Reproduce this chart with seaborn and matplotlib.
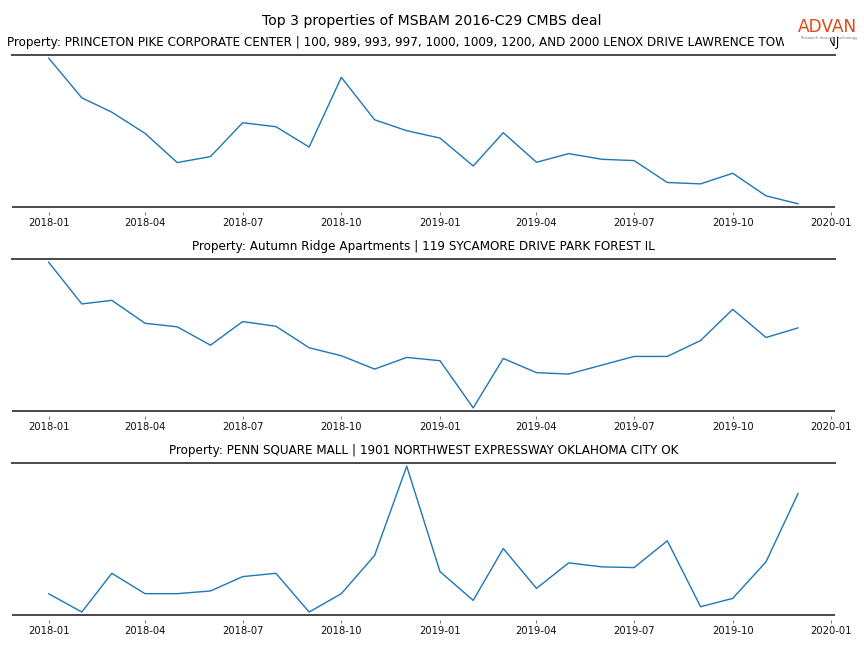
import numpy as np
import pandas as pd
import matplotlib
matplotlib.use("Agg")
import matplotlib.pyplot as plt
import matplotlib.dates as mdates
from matplotlib.patches import Rectangle
import seaborn as sns

months = pd.date_range("2018-01-01", "2019-12-01", freq="MS")

titles = [
    "Property: PRINCETON PIKE CORPORATE CENTER | 100, 989, 993, 997, 1000, 1009, 1200, AND 2000 LENOX DRIVE LAWRENCE TOWNSHIP NJ",
    "Property: Autumn Ridge Apartments | 119 SYCAMORE DRIVE PARK FOREST IL",
    "Property: PENN SQUARE MALL | 1901 NORTHWEST EXPRESSWAY OKLAHOMA CITY OK",
]

princeton = [151.7, 111.7, 97.3, 76.0, 46.7, 52.7, 86.7, 82.7, 62.3, 132.3, 89.7, 78.7,
             71.3, 43.3, 76.7, 47.0, 55.7, 50.0, 48.7, 26.7, 25.3, 36.0, 13.3, 5.3]
autumn = [152.7, 110.7, 114.3, 91.3, 87.7, 69.3, 93.0, 88.3, 66.7, 58.7, 45.3, 57.0,
          53.7, 6.3, 56.0, 41.7, 40.3, 49.3, 58.0, 58.0, 74.0, 105.3, 77.0, 86.7]
penn = [26.0, 7.7, 46.3, 26.0, 26.0, 28.7, 43.0, 46.3, 7.7, 26.0, 64.0, 153.0,
        48.0, 19.3, 71.0, 31.3, 56.7, 52.7, 52.0, 78.7, 13.0, 21.3, 57.7, 126.0]

series = [princeton, autumn, penn]

sns.set_style("white")
plt.rcParams["font.family"] = ["DejaVu Sans"]

fig, axes = plt.subplots(3, 1, figsize=(12, 9), dpi=72)
fig.subplots_adjust(left=0.014, right=0.966, top=0.915, bottom=0.051, hspace=0.346)

spine_color = "#4d4d4d"
for ax, title, vals in zip(axes, titles, series):
    df = pd.DataFrame({"date": months, "value": vals})
    sns.lineplot(data=df, x="date", y="value", ax=ax, color="#1f77b4", linewidth=1.4)
    ax.margins(x=0.05, y=0.02)
    ax.set_title(title, fontsize=12, pad=9, color="black")
    ax.set_xlabel("")
    ax.set_ylabel("")
    ax.set_yticks([])
    ax.xaxis.set_major_locator(mdates.MonthLocator(bymonth=[1, 4, 7, 10]))
    ax.xaxis.set_major_formatter(mdates.DateFormatter("%Y-%m"))
    ax.set_xlim(pd.Timestamp("2017-11-28"), pd.Timestamp("2020-01-04"))
    for s in ["left", "right"]:
        ax.spines[s].set_visible(False)
    ax.spines["top"].set_color(spine_color)
    ax.spines["top"].set_linewidth(2)
    ax.spines["bottom"].set_position(("outward", 5))
    ax.spines["bottom"].set_color("none")
    ax.plot([0, 1], [0, 0], transform=ax.transAxes, color=spine_color, lw=2,
            clip_on=False, solid_capstyle="butt")
    ax.tick_params(axis="x", bottom=True, direction="out", length=3, width=0.8,
                   color="#555555", labelsize=10, pad=3, labelcolor="#111111")

fig.suptitle("Top 3 properties of MSBAM 2016-C29 CMBS deal", fontsize=14, y=0.978,
             color="black")

# logo block (white backdrop over the end of the long title, as in the source)
fig.patches.append(Rectangle((784 / 864, 1 - 46 / 648), 46 / 864, 12 / 648,
                             transform=fig.transFigure, facecolor="white",
                             edgecolor="none", zorder=9))
fig.text(857 / 864, 1 - 27 / 648, "ADVAN", ha="right", va="center", fontsize=17,
         color="#dd4a17", fontweight="medium", zorder=10)
fig.text(857 / 864, 1 - 38.5 / 648, "Research through Technology", ha="right",
         va="center", fontsize=3.8, color="#777777", zorder=10)

fig.savefig("out.png", dpi=72)
